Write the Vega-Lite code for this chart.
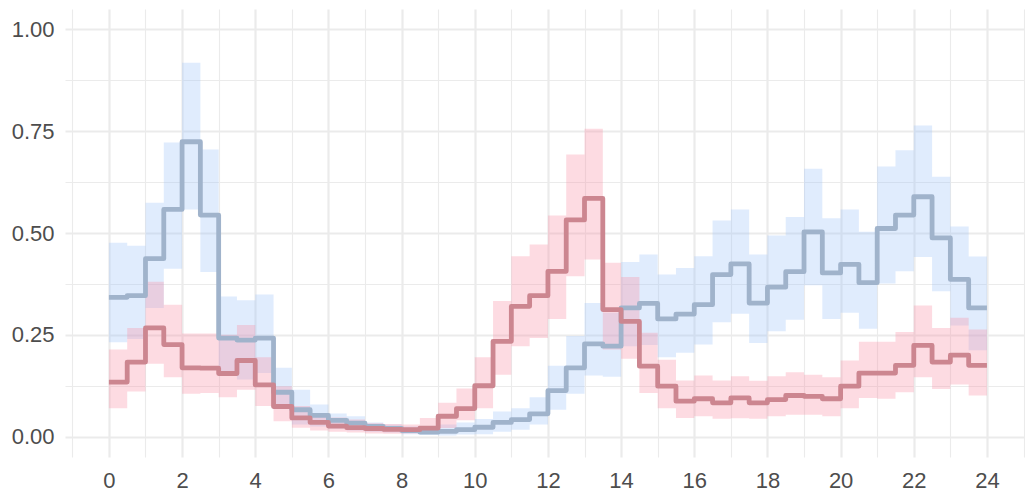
{
  "$schema": "https://vega.github.io/schema/vega-lite/v6.json",
  "width": 960,
  "height": 448,
  "autosize": {"type": "none"},
  "padding": {"left": 65, "top": 9, "right": 0, "bottom": 33},
  "background": "white",
  "config": {
    "view": {"stroke": null},
    "axis": {
      "domain": false,
      "ticks": false,
      "labelColor": "#4d4d4d",
      "labelFont": "Liberation Sans",
      "labelFontSize": 22,
      "gridColor": "#ebebeb",
      "title": null
    }
  },
  "data": {
    "values": [
      {"h": 0, "g": "A", "y": 0.342, "lo": 0.232, "hi": 0.476},
      {"h": 0.5, "g": "A", "y": 0.346, "lo": 0.240, "hi": 0.469},
      {"h": 1, "g": "A", "y": 0.437, "lo": 0.316, "hi": 0.574},
      {"h": 1.5, "g": "A", "y": 0.558, "lo": 0.412, "hi": 0.722},
      {"h": 2, "g": "A", "y": 0.724, "lo": 0.558, "hi": 0.918},
      {"h": 2.5, "g": "A", "y": 0.544, "lo": 0.404, "hi": 0.705},
      {"h": 3, "g": "A", "y": 0.242, "lo": 0.150, "hi": 0.344},
      {"h": 3.5, "g": "A", "y": 0.237, "lo": 0.140, "hi": 0.335},
      {"h": 4, "g": "A", "y": 0.242, "lo": 0.156, "hi": 0.349},
      {"h": 4.5, "g": "A", "y": 0.109, "lo": 0.075, "hi": 0.169},
      {"h": 5, "g": "A", "y": 0.066, "lo": 0.030, "hi": 0.115},
      {"h": 5.5, "g": "A", "y": 0.052, "lo": 0.025, "hi": 0.079},
      {"h": 6, "g": "A", "y": 0.040, "lo": 0.020, "hi": 0.057},
      {"h": 6.5, "g": "A", "y": 0.033, "lo": 0.015, "hi": 0.050},
      {"h": 7, "g": "A", "y": 0.025, "lo": 0.012, "hi": 0.035},
      {"h": 7.5, "g": "A", "y": 0.020, "lo": 0.010, "hi": 0.030},
      {"h": 8, "g": "A", "y": 0.015, "lo": 0.006, "hi": 0.025},
      {"h": 8.5, "g": "A", "y": 0.011, "lo": 0.004, "hi": 0.025},
      {"h": 9, "g": "A", "y": 0.013, "lo": 0.003, "hi": 0.030},
      {"h": 9.5, "g": "A", "y": 0.017, "lo": 0.005, "hi": 0.035},
      {"h": 10, "g": "A", "y": 0.023, "lo": 0.006, "hi": 0.043},
      {"h": 10.5, "g": "A", "y": 0.035, "lo": 0.012, "hi": 0.062},
      {"h": 11, "g": "A", "y": 0.042, "lo": 0.017, "hi": 0.070},
      {"h": 11.5, "g": "A", "y": 0.056, "lo": 0.030, "hi": 0.097},
      {"h": 12, "g": "A", "y": 0.113, "lo": 0.066, "hi": 0.174},
      {"h": 12.5, "g": "A", "y": 0.169, "lo": 0.105, "hi": 0.247},
      {"h": 13, "g": "A", "y": 0.228, "lo": 0.150, "hi": 0.328},
      {"h": 13.5, "g": "A", "y": 0.222, "lo": 0.147, "hi": 0.304},
      {"h": 14, "g": "A", "y": 0.316, "lo": 0.222, "hi": 0.429},
      {"h": 14.5, "g": "A", "y": 0.327, "lo": 0.225, "hi": 0.447},
      {"h": 15, "g": "A", "y": 0.289, "lo": 0.195, "hi": 0.398},
      {"h": 15.5, "g": "A", "y": 0.301, "lo": 0.206, "hi": 0.414},
      {"h": 16, "g": "A", "y": 0.324, "lo": 0.226, "hi": 0.443},
      {"h": 16.5, "g": "A", "y": 0.398, "lo": 0.281, "hi": 0.531},
      {"h": 17, "g": "A", "y": 0.424, "lo": 0.302, "hi": 0.558},
      {"h": 17.5, "g": "A", "y": 0.328, "lo": 0.230, "hi": 0.447},
      {"h": 18, "g": "A", "y": 0.367, "lo": 0.259, "hi": 0.494},
      {"h": 18.5, "g": "A", "y": 0.405, "lo": 0.287, "hi": 0.539},
      {"h": 19, "g": "A", "y": 0.503, "lo": 0.372, "hi": 0.658},
      {"h": 19.5, "g": "A", "y": 0.402, "lo": 0.289, "hi": 0.536},
      {"h": 20, "g": "A", "y": 0.423, "lo": 0.304, "hi": 0.558},
      {"h": 20.5, "g": "A", "y": 0.378, "lo": 0.265, "hi": 0.503},
      {"h": 21, "g": "A", "y": 0.511, "lo": 0.376, "hi": 0.663},
      {"h": 21.5, "g": "A", "y": 0.544, "lo": 0.406, "hi": 0.703},
      {"h": 22, "g": "A", "y": 0.589, "lo": 0.441, "hi": 0.764},
      {"h": 22.5, "g": "A", "y": 0.488, "lo": 0.357, "hi": 0.638},
      {"h": 23, "g": "A", "y": 0.386, "lo": 0.273, "hi": 0.516},
      {"h": 23.5, "g": "A", "y": 0.316, "lo": 0.212, "hi": 0.442},
      {"h": 24, "g": "A", "y": 0.316, "lo": 0.212, "hi": 0.442},
      {"h": 0, "g": "B", "y": 0.134, "lo": 0.070, "hi": 0.214},
      {"h": 0.5, "g": "B", "y": 0.183, "lo": 0.111, "hi": 0.267},
      {"h": 1, "g": "B", "y": 0.267, "lo": 0.179, "hi": 0.380},
      {"h": 1.5, "g": "B", "y": 0.226, "lo": 0.146, "hi": 0.324},
      {"h": 2, "g": "B", "y": 0.169, "lo": 0.105, "hi": 0.253},
      {"h": 2.5, "g": "B", "y": 0.168, "lo": 0.107, "hi": 0.253},
      {"h": 3, "g": "B", "y": 0.155, "lo": 0.097, "hi": 0.250},
      {"h": 3.5, "g": "B", "y": 0.187, "lo": 0.115, "hi": 0.274},
      {"h": 4, "g": "B", "y": 0.127, "lo": 0.075, "hi": 0.195},
      {"h": 4.5, "g": "B", "y": 0.074, "lo": 0.038, "hi": 0.124},
      {"h": 5, "g": "B", "y": 0.046, "lo": 0.022, "hi": 0.075},
      {"h": 5.5, "g": "B", "y": 0.035, "lo": 0.015, "hi": 0.055},
      {"h": 6, "g": "B", "y": 0.026, "lo": 0.012, "hi": 0.047},
      {"h": 6.5, "g": "B", "y": 0.022, "lo": 0.010, "hi": 0.042},
      {"h": 7, "g": "B", "y": 0.020, "lo": 0.008, "hi": 0.033},
      {"h": 7.5, "g": "B", "y": 0.018, "lo": 0.007, "hi": 0.031},
      {"h": 8, "g": "B", "y": 0.017, "lo": 0.008, "hi": 0.030},
      {"h": 8.5, "g": "B", "y": 0.021, "lo": 0.012, "hi": 0.046},
      {"h": 9, "g": "B", "y": 0.050, "lo": 0.021, "hi": 0.083},
      {"h": 9.5, "g": "B", "y": 0.069, "lo": 0.040, "hi": 0.118},
      {"h": 10, "g": "B", "y": 0.125, "lo": 0.070, "hi": 0.195},
      {"h": 10.5, "g": "B", "y": 0.234, "lo": 0.152, "hi": 0.333},
      {"h": 11, "g": "B", "y": 0.320, "lo": 0.222, "hi": 0.443},
      {"h": 11.5, "g": "B", "y": 0.346, "lo": 0.242, "hi": 0.472},
      {"h": 12, "g": "B", "y": 0.406, "lo": 0.289, "hi": 0.543},
      {"h": 12.5, "g": "B", "y": 0.532, "lo": 0.394, "hi": 0.693},
      {"h": 13, "g": "B", "y": 0.585, "lo": 0.435, "hi": 0.756},
      {"h": 13.5, "g": "B", "y": 0.312, "lo": 0.214, "hi": 0.427},
      {"h": 14, "g": "B", "y": 0.283, "lo": 0.191, "hi": 0.392},
      {"h": 14.5, "g": "B", "y": 0.173, "lo": 0.107, "hi": 0.255},
      {"h": 15, "g": "B", "y": 0.124, "lo": 0.070, "hi": 0.189},
      {"h": 15.5, "g": "B", "y": 0.087, "lo": 0.046, "hi": 0.138},
      {"h": 16, "g": "B", "y": 0.093, "lo": 0.050, "hi": 0.150},
      {"h": 16.5, "g": "B", "y": 0.083, "lo": 0.044, "hi": 0.138},
      {"h": 17, "g": "B", "y": 0.095, "lo": 0.045, "hi": 0.148},
      {"h": 17.5, "g": "B", "y": 0.083, "lo": 0.044, "hi": 0.137},
      {"h": 18, "g": "B", "y": 0.091, "lo": 0.050, "hi": 0.148},
      {"h": 18.5, "g": "B", "y": 0.101, "lo": 0.054, "hi": 0.158},
      {"h": 19, "g": "B", "y": 0.099, "lo": 0.054, "hi": 0.152},
      {"h": 19.5, "g": "B", "y": 0.093, "lo": 0.050, "hi": 0.146},
      {"h": 20, "g": "B", "y": 0.124, "lo": 0.070, "hi": 0.187},
      {"h": 20.5, "g": "B", "y": 0.156, "lo": 0.095, "hi": 0.233},
      {"h": 21, "g": "B", "y": 0.156, "lo": 0.093, "hi": 0.233},
      {"h": 21.5, "g": "B", "y": 0.175, "lo": 0.109, "hi": 0.257},
      {"h": 22, "g": "B", "y": 0.224, "lo": 0.146, "hi": 0.322},
      {"h": 22.5, "g": "B", "y": 0.183, "lo": 0.117, "hi": 0.267},
      {"h": 23, "g": "B", "y": 0.200, "lo": 0.128, "hi": 0.292},
      {"h": 23.5, "g": "B", "y": 0.175, "lo": 0.101, "hi": 0.263},
      {"h": 24, "g": "B", "y": 0.175, "lo": 0.101, "hi": 0.263}
    ]
  },
  "encoding": {
    "x": {
      "field": "h",
      "type": "quantitative",
      "scale": {"domain": [-1.2, 25.04], "nice": false, "zero": false},
      "axis": {
        "values": [-1, 0, 1, 2, 3, 4, 5, 6, 7, 8, 9, 10, 11, 12, 13, 14, 15, 16, 17, 18, 19, 20, 21, 22, 23, 24, 25],
        "labelExpr": "datum.value % 2 === 0 ? datum.label : ''",
        "labelPadding": 13,
        "labelFlush": false,
        "labelOverlap": false,
        "gridWidth": {"condition": {"test": "datum.value % 2 === 0", "value": 2.2}, "value": 1.1}
      }
    }
  },
  "layer": [
    {
      "mark": {"type": "area", "interpolate": "step-after", "fillOpacity": 0.32},
      "encoding": {
        "y": {
          "field": "lo",
          "type": "quantitative",
          "scale": {"domain": [-0.05, 1.05], "nice": false, "zero": false},
          "axis": {
            "values": [0, 0.125, 0.25, 0.375, 0.5, 0.625, 0.75, 0.875, 1],
            "labelExpr": "(datum.value * 4) % 1 === 0 ? format(datum.value, '.2f') : ''",
            "labelPadding": 11,
            "labelOverlap": false,
            "gridWidth": {"condition": {"test": "(datum.value * 4) % 1 === 0", "value": 2.2}, "value": 1.1}
          }
        },
        "y2": {"field": "hi"},
        "fill": {
          "field": "g",
          "type": "nominal",
          "scale": {"domain": ["A", "B"], "range": ["#9ec5fa", "#fa8fa5"]},
          "legend": null
        }
      }
    },
    {
      "mark": {"type": "line", "interpolate": "step-after", "strokeWidth": 4.8, "strokeJoin": "round", "strokeCap": "butt"},
      "encoding": {
        "y": {"field": "y", "type": "quantitative"},
        "stroke": {
          "field": "g",
          "type": "nominal",
          "scale": {"domain": ["A", "B"], "range": ["#a0b3cb", "#cc8690"]},
          "legend": null
        }
      }
    }
  ]
}
